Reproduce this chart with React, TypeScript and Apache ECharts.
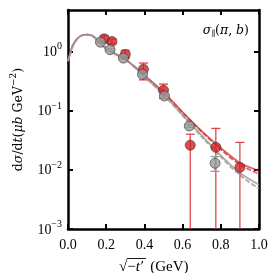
import React, { useEffect, useRef } from "react";
import * as echarts from "echarts";

const curveX = [0, 0.025, 0.05, 0.075, 0.1, 0.125, 0.15, 0.2, 0.25, 0.3, 0.4, 0.5, 0.6, 0.7, 0.8, 0.9, 1.0];
const redSolidY = [0.68, 1.25, 1.65, 1.87, 1.92, 1.85, 1.6, 1.12, 0.9, 0.74, 0.395, 0.205, 0.094, 0.045, 0.0234, 0.0131, 0.0096];
const redDashedY = [0.68, 1.25, 1.65, 1.87, 1.92, 1.85, 1.6, 1.12, 0.9, 0.74, 0.39, 0.2, 0.092, 0.044, 0.022, 0.0122, 0.0085];
const graySolidY = [0.68, 1.25, 1.65, 1.87, 1.92, 1.85, 1.6, 1.12, 0.9, 0.74, 0.38, 0.19, 0.085, 0.038, 0.0175, 0.0088, 0.0056];
const grayDashedY = [0.68, 1.25, 1.65, 1.87, 1.92, 1.85, 1.6, 1.12, 0.9, 0.74, 0.375, 0.185, 0.082, 0.036, 0.0165, 0.0081, 0.0048];

const redX = [0.19, 0.23, 0.3, 0.395, 0.5, 0.64, 0.774, 0.9];
const redY = [1.63, 1.47, 0.89, 0.5, 0.221, 0.026, 0.024, 0.011];
const redLo = [1.45, 1.35, 0.76, 0.33, 0.16, 0.0001, 0.0001, 0.0001];
const redHi = [1.85, 1.62, 1.04, 0.635, 0.28, 0.04, 0.05, 0.029];

const grayX = [0.17, 0.22, 0.29, 0.39, 0.505, 0.635, 0.77];
const grayY = [1.43, 1.07, 0.77, 0.41, 0.177, 0.055, 0.0129];
const grayLo = [1.38, 1.03, 0.74, 0.39, 0.17, 0.052, 0.0094];
const grayHi = [1.48, 1.11, 0.8, 0.43, 0.185, 0.058, 0.0167];

const yTicks = [0.001, 0.01, 0.1, 1];

const SERIF = "Liberation Serif";
const WIDE = "DejaVu Serif";
const RED = "#d62027";
const GRAY = "#9a9a9a";

function errSeries(xs: number[], lo: number[], hi: number[], color: string, z: number) {
  return {
    type: "custom",
    clip: true,
    z,
    data: xs.map((x, i) => [x, lo[i], hi[i]]),
    renderItem: (params: any, api: any) => {
      const x = api.value(0);
      const p1 = api.coord([x, api.value(1)]);
      const p2 = api.coord([x, api.value(2)]);
      const cw = 4.5;
      const children: any[] = [
        { type: "line", shape: { x1: p1[0], y1: p1[1], x2: p2[0], y2: p2[1] }, style: { stroke: color, lineWidth: 1.3 } },
        { type: "line", shape: { x1: p2[0] - cw, y1: p2[1], x2: p2[0] + cw, y2: p2[1] }, style: { stroke: color, lineWidth: 1.3 } },
      ];
      if (api.value(1) >= yTicks[0]) {
        children.push({ type: "line", shape: { x1: p1[0] - cw, y1: p1[1], x2: p1[0] + cw, y2: p1[1] }, style: { stroke: color, lineWidth: 1.3 } });
      }
      return { type: "group", children };
    },
  };
}

export default function App() {
  const ref = useRef<HTMLDivElement>(null);
  useEffect(() => {
    if (!ref.current) return;
    const chart = echarts.init(ref.current, null, { renderer: "svg" });
    const axisLine = { show: true, onZero: false, lineStyle: { color: "#000", width: 2.5 } };
    const tick = { show: true, inside: true, length: 5, lineStyle: { color: "#000", width: 2 } };
    const yFmt = (v: number) => {
      const e = Math.round(Math.log10(v));
      if (Math.abs(v - Math.pow(10, e)) / v > 1e-6) return "";
      return `{b|10}{e|${e === 0 ? "0" : "\u2212" + Math.abs(e)}}`;
    };
    const rich = {
      b: { fontFamily: SERIF, fontSize: 14, color: "#000" },
      e: { fontFamily: SERIF, fontSize: 10, color: "#000", padding: [0, 0, 11, 0] },
    };
    const line = (data: number[], color: string, dashed: boolean, z: number, op: number) => ({
      type: "line",
      data: curveX.map((x, i) => [x, data[i]]),
      showSymbol: false,
      smooth: 0.3,
      z,
      lineStyle: { color, width: 1.8, type: dashed ? [5, 2] : "solid", opacity: op },
    });
    chart.setOption({
      animation: false,
      grid: { left: 60, right: 14, top: 10, bottom: 44 },
      xAxis: [
        {
          type: "value", min: 0, max: 1, interval: 0.2, position: "bottom",
          axisLine, axisTick: tick, splitLine: { show: false },
          axisLabel: { fontFamily: SERIF, fontSize: 14, color: "#000", margin: 8, formatter: (v: number) => v.toFixed(1) },
        },
        {
          type: "value", min: 0, max: 1, interval: 0.2, position: "top",
          axisLine, axisTick: tick, axisLabel: { show: false }, splitLine: { show: false },
        },
      ],
      yAxis: [
        {
          type: "log", min: 0.001, max: 5, logBase: 10, position: "left",
          axisLine, axisTick: { ...tick, customValues: yTicks }, splitLine: { show: false }, minorTick: { show: false },
          axisLabel: { customValues: yTicks, formatter: yFmt, rich, margin: 6 },
          name: "{u|d}{i|\u03C3}{u|/d}{i|t}{u|(}{i|\u03BCb}{u| GeV}{s|\u22122}{u|)}",
          nameLocation: "middle", nameGap: 42, nameRotate: 90,
          nameTextStyle: {
            fontFamily: WIDE, fontSize: 12.5, color: "#000",
            rich: {
              u: { fontFamily: WIDE, fontSize: 12.5, color: "#000" },
              i: { fontFamily: WIDE, fontSize: 12.5, fontStyle: "italic", color: "#000" },
              s: { fontFamily: WIDE, fontSize: 9, color: "#000", padding: [0, 0, 9, 0] },
            },
          },
        },
        {
          type: "log", min: 0.001, max: 5, logBase: 10, position: "right",
          axisLine, axisTick: { ...tick, customValues: yTicks }, axisLabel: { show: false }, splitLine: { show: false },
        },
      ],
      graphic: [
        {
          type: "text", right: 24, top: 23,
          style: {
            text: "{i|\u03C3}{s|\u2225}{u|(}{i|\u03C0}{u|, }{i|b}{u|)}",
            rich: {
              u: { fontFamily: WIDE, fontSize: 12.5, color: "#000" },
              i: { fontFamily: WIDE, fontSize: 12.5, fontStyle: "italic", color: "#000" },
              s: { fontFamily: WIDE, fontSize: 8, color: "#000", padding: [7, 0, 0, 0] },
            },
          },
        },
        {
          type: "text", x: 119, y: 266,
          style: {
            text: "{r|\u221A}{r|\u2212}{i|t\u2032}{g|(GeV)}",
            verticalAlign: "middle",
            rich: {
              r: { fontFamily: SERIF, fontSize: 15, color: "#000" },
              i: { fontFamily: SERIF, fontSize: 15, fontStyle: "italic", color: "#000" },
              g: { fontFamily: SERIF, fontSize: 15, color: "#000", padding: [0, 0, 0, 7] },
            },
          },
        },
        {
          type: "line", shape: { x1: 127, y1: 258.5, x2: 146, y2: 258.5 },
          style: { stroke: "#000", lineWidth: 0.9 },
        },
      ],
      series: [
        line(redSolidY, RED, false, 2, 0.7),
        line(redDashedY, RED, true, 2, 0.7),
        line(graySolidY, GRAY, false, 3, 0.8),
        line(grayDashedY, GRAY, true, 3, 0.8),
        errSeries(redX, redLo, redHi, "#e0454a", 4),
        errSeries(grayX, grayLo, grayHi, GRAY, 4),
        {
          type: "scatter", z: 5, data: redX.map((x, i) => [x, redY[i]]), symbolSize: 10,
          itemStyle: { color: RED, borderColor: "#333", borderWidth: 0.8 },
        },
        {
          type: "scatter", z: 6, data: grayX.map((x, i) => [x, grayY[i]]), symbolSize: 10,
          itemStyle: { color: GRAY, borderColor: "#333", borderWidth: 0.8 },
        },
      ],
    });
    return () => chart.dispose();
  }, []);
  return <div ref={ref} style={{ position: "fixed", left: 0, top: 0, width: 273, height: 273 }} />;
}
